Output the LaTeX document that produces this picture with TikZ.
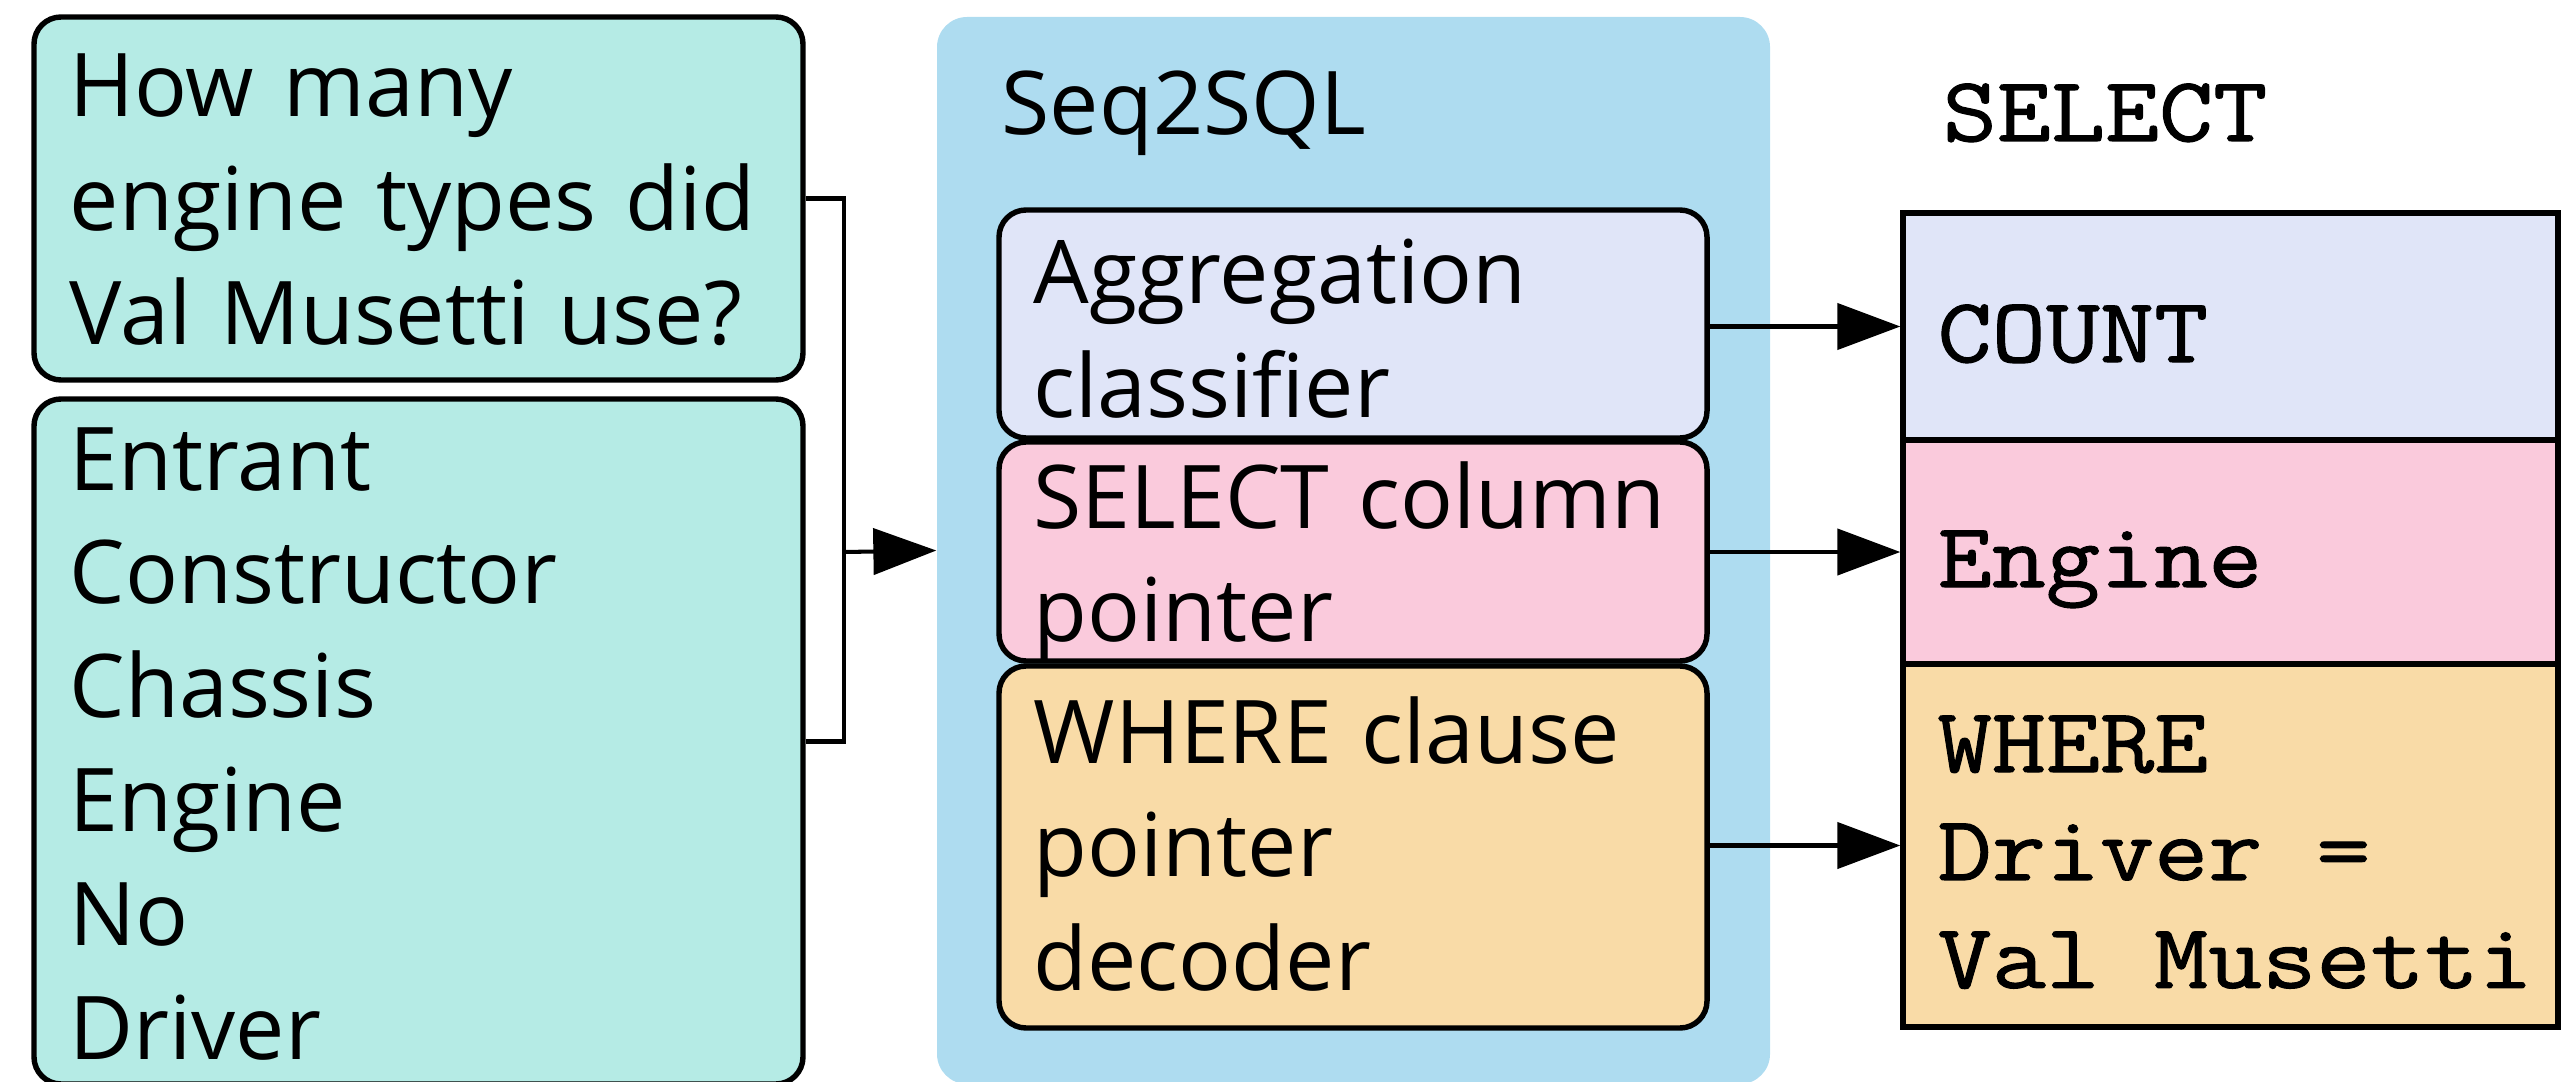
\documentclass[tikz,border=0pt]{standalone}
\usepackage{fontspec}
\setmainfont{Open Sans}
\newfontfamily\codefont[FakeStretch=1.14,FakeBold=1.2]{Latin Modern Mono}
\newcommand\csp{\hbox to \fontcharwd\font`x{\hss}}
\usetikzlibrary{fit,arrows.meta}
\definecolor{qteal}{RGB}{181,235,229}
\definecolor{seqblue}{RGB}{174,220,240}
\definecolor{agglav}{RGB}{224,229,248}
\definecolor{selpink}{RGB}{250,202,220}
\definecolor{whereor}{RGB}{249,219,167}
\tikzset{
  rbox/.style={draw=black, line width=1.55pt, rounded corners=0.27cm, inner sep=0pt},
  cell/.style={draw=black, line width=1.55pt, inner sep=0pt},
  txt/.style={anchor=base west, inner sep=0pt, align=left, text width=7.5cm,
              font=\fontsize{25}{32.4}\selectfont},
  code/.style={anchor=base west, inner sep=0pt, align=left, text width=6.2cm,
              font=\codefont\fontsize{26.2}{30.7}\selectfont},
  conn/.style={line width=1.15pt, -{Triangle[length=17.9pt,width=13.1pt]}},
  plain/.style={line width=1.15pt, line join=miter}
}
\begin{document}
\begin{tikzpicture}[x=0.01cm,y=-0.01cm]
\useasboundingbox (0,0) rectangle (2561,1082);
% left input boxes
\node[rbox, fill=qteal, fit={(34,17) (803,380)}] (q) {};
\node[rbox, fill=qteal, fit={(34,399) (803,1084)}] (cols) {};
\node[txt] (qt) at (69,117) {How many\\engine types did\\Val Musetti use?};
\node[txt] (ct) at (69,490) {Entrant\\Constructor\\Chassis\\Engine\\No\\Driver};
% Seq2SQL container
\node[fill=seqblue, rounded corners=0.3cm, inner sep=0pt, fit={(937,17) (1770,1084)}] (seq) {};
\node[txt] (seqt) at (1001,135) {Seq2SQL};
\node[rbox, fill=agglav, fit={(999,210) (1707,438)}] (agg) {};
\node[rbox, fill=selpink, fit={(999,442) (1707,661)}] (sel) {};
\node[rbox, fill=whereor, fit={(999,666) (1707,1028)}] (whr) {};
\node[txt] (aggt) at (1033,304) {Aggregation\\classifier};
\node[txt] (selt) at (1033,528) {SELECT column\\pointer};
\node[txt] (whrt) at (1033,763) {WHERE clause\\pointer\\decoder};
% output table
\node[code] (selhdr) at (1942,141) {SELECT};
\node[cell, fill=agglav, fit={(1903,213) (2558,440)}] (cnt) {};
\node[cell, fill=selpink, fit={(1903,440) (2558,664)}] (eng) {};
\node[cell, fill=whereor, fit={(1903,664) (2558,1027)}] (drv) {};
\node[code] (cntt) at (1937,362) {COUNT};
\node[code] (engt) at (1937,587) {Engine};
\node[code] (drvt) at (1937,772) {WHERE\\Driver\csp=\\Val\csp Musetti};
% connectors
\coordinate (br) at (844,552);
\draw[plain] (q.east) -| (br) |- (cols.east);
\draw[conn] (br) -- (seq.west);
\draw[conn] (agg.east |- cnt.west) -- (cnt.west);
\draw[conn] (sel.east |- eng.west) -- (eng.west);
\draw[conn] (whr.east |- drv.west) -- (drv.west);
\end{tikzpicture}
\end{document}
